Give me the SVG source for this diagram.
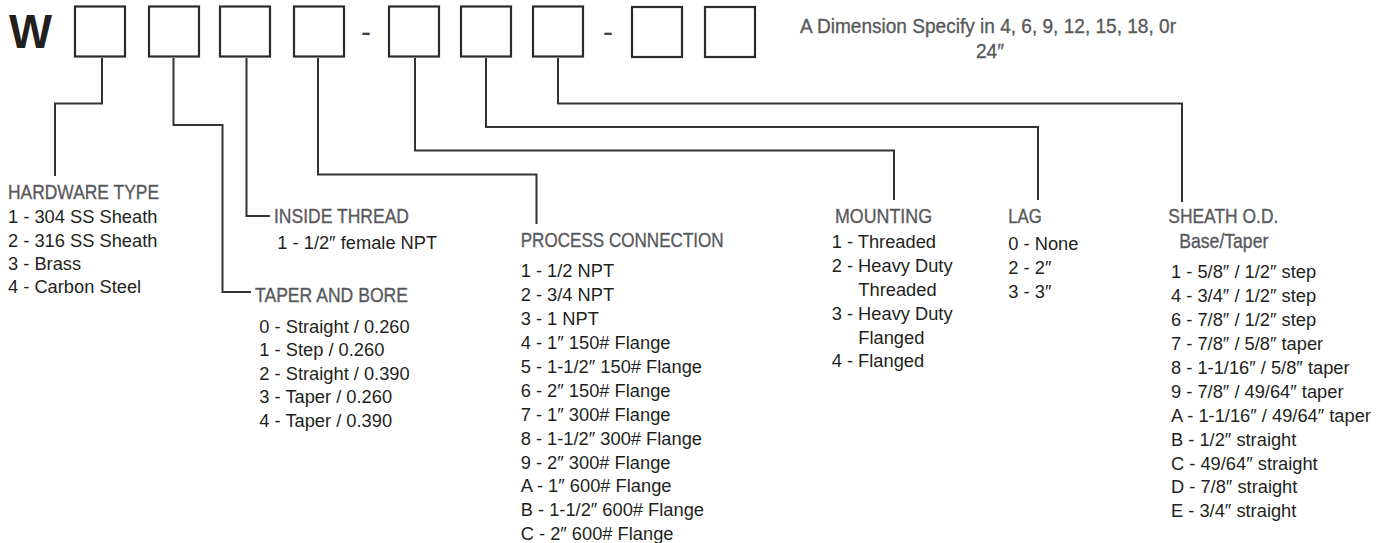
<svg xmlns="http://www.w3.org/2000/svg" width="1393" height="543" viewBox="0 0 1393 543">
<style>
.box{fill:#fff;stroke:#2b2b2b;stroke-width:2.2}
.c{fill:none;stroke:#333;stroke-width:2}
.h{font-family:"Liberation Sans",Arial,"DejaVu Sans",sans-serif;font-size:21px;fill:#58595b;stroke:#58595b;stroke-width:0.35}
.b{font-family:"Liberation Sans",Arial,"DejaVu Sans",sans-serif;font-size:18.3px;fill:#231f20}
.w{font-family:"Liberation Sans",Arial,sans-serif;font-size:48px;font-weight:bold;fill:#231f20}
.d{font-family:"Liberation Sans",Arial,sans-serif;font-size:30px;fill:#444}
</style>
<rect width="1393" height="543" fill="#fff"/>
<g id="code">
<text class="w" x="9" y="48" textLength="43" lengthAdjust="spacingAndGlyphs">W</text>
<rect class="box" x="75" y="6.5" width="50" height="50"/>
<rect class="box" x="149" y="6.5" width="50" height="50"/>
<rect class="box" x="220" y="6.5" width="50" height="50"/>
<rect class="box" x="294" y="6.5" width="50" height="50"/>
<text class="d" x="366" y="42" text-anchor="middle">-</text>
<rect class="box" x="389" y="6.5" width="50" height="50"/>
<rect class="box" x="461" y="6.5" width="50" height="50"/>
<rect class="box" x="533" y="6.5" width="50" height="50"/>
<text class="d" x="608" y="42" text-anchor="middle">-</text>
<rect class="box" x="632" y="7" width="50" height="50"/>
<rect class="box" x="705" y="7" width="50" height="50"/>
</g>
<g id="dimension-note">
<text class="h" x="988" y="33.3" text-anchor="middle" textLength="376" lengthAdjust="spacingAndGlyphs">A Dimension Specify in 4, 6, 9, 12, 15, 18, 0r</text>
<text class="h" x="990" y="58.3" text-anchor="middle" textLength="28" lengthAdjust="spacingAndGlyphs">24″</text>
</g>
<g id="connectors">
<path class="c" d="M102 58 V103.5 H55 V176"/>
<path class="c" d="M173.5 58 V125 H222.5 V292 H251"/>
<path class="c" d="M246.5 58 V216 H270"/>
<path class="c" d="M318 58 V174.5 H536.5 V224"/>
<path class="c" d="M415 58 V150.5 H894 V200"/>
<path class="c" d="M486 58 V127 H1038 V200"/>
<path class="c" d="M558 58 V103.5 H1182 V202"/>
</g>
<g id="hardware-type">
<text class="h" x="8" y="199" textLength="151" lengthAdjust="spacingAndGlyphs">HARDWARE TYPE</text>
<text class="b" x="8" y="223.3">1 - 304 SS Sheath</text>
<text class="b" x="8" y="246.7">2 - 316 SS Sheath</text>
<text class="b" x="8" y="270">3 - Brass</text>
<text class="b" x="8" y="293.3">4 - Carbon Steel</text>
</g>
<g id="inside-thread">
<text class="h" x="274" y="223.3" textLength="135" lengthAdjust="spacingAndGlyphs">INSIDE THREAD</text>
<text class="b" x="277.3" y="248.7">1 - 1/2″ female NPT</text>
</g>
<g id="taper-and-bore">
<text class="h" x="255" y="302" textLength="153" lengthAdjust="spacingAndGlyphs">TAPER AND BORE</text>
<text class="b" x="259.3" y="332.7">0 - Straight / 0.260</text>
<text class="b" x="259.3" y="356.2">1 - Step / 0.260</text>
<text class="b" x="259.3" y="379.7">2 - Straight / 0.390</text>
<text class="b" x="259.3" y="403.2">3 - Taper / 0.260</text>
<text class="b" x="259.3" y="426.7">4 - Taper / 0.390</text>
</g>
<g id="process-connection">
<text class="h" x="520.7" y="247.3" textLength="203" lengthAdjust="spacingAndGlyphs">PROCESS CONNECTION</text>
<text class="b" x="520.7" y="277.3">1 - 1/2 NPT</text>
<text class="b" x="520.7" y="301.2">2 - 3/4 NPT</text>
<text class="b" x="520.7" y="325.1">3 - 1 NPT</text>
<text class="b" x="520.7" y="349">4 - 1″ 150# Flange</text>
<text class="b" x="520.7" y="372.9">5 - 1-1/2″ 150# Flange</text>
<text class="b" x="520.7" y="396.8">6 - 2″ 150# Flange</text>
<text class="b" x="520.7" y="420.7">7 - 1″ 300# Flange</text>
<text class="b" x="520.7" y="444.6">8 - 1-1/2″ 300# Flange</text>
<text class="b" x="520.7" y="468.5">9 - 2″ 300# Flange</text>
<text class="b" x="520.7" y="492.4">A - 1″ 600# Flange</text>
<text class="b" x="520.7" y="516.3">B - 1-1/2″ 600# Flange</text>
<text class="b" x="520.7" y="540.2">C - 2″ 600# Flange</text>
</g>
<g id="mounting">
<text class="h" x="835" y="223.3" textLength="97" lengthAdjust="spacingAndGlyphs">MOUNTING</text>
<text class="b" x="831.7" y="248.3">1 - Threaded</text>
<text class="b" x="831.7" y="272.2">2 - Heavy Duty</text>
<text class="b" x="858.3" y="296">Threaded</text>
<text class="b" x="831.7" y="319.8">3 - Heavy Duty</text>
<text class="b" x="858.3" y="343.6">Flanged</text>
<text class="b" x="831.7" y="367.4">4 - Flanged</text>
</g>
<g id="lag">
<text class="h" x="1008.3" y="223.3" textLength="33.5" lengthAdjust="spacingAndGlyphs">LAG</text>
<text class="b" x="1008.3" y="250">0 - None</text>
<text class="b" x="1008.3" y="273.9">2 - 2″</text>
<text class="b" x="1008.3" y="297.7">3 - 3″</text>
</g>
<g id="sheath-od">
<text class="h" x="1168.3" y="223.3" textLength="110" lengthAdjust="spacingAndGlyphs">SHEATH O.D.</text>
<text class="h" x="1179.3" y="247.5" textLength="89" lengthAdjust="spacingAndGlyphs">Base/Taper</text>
<text class="b" x="1171" y="278.3">1 - 5/8″ / 1/2″ step</text>
<text class="b" x="1171" y="302.2">4 - 3/4″ / 1/2″ step</text>
<text class="b" x="1171" y="326.1">6 - 7/8″ / 1/2″ step</text>
<text class="b" x="1171" y="350">7 - 7/8″ / 5/8″ taper</text>
<text class="b" x="1171" y="373.9">8 - 1-1/16″ / 5/8″ taper</text>
<text class="b" x="1171" y="397.8">9 - 7/8″ / 49/64″ taper</text>
<text class="b" x="1171" y="421.7">A - 1-1/16″ / 49/64″ taper</text>
<text class="b" x="1171" y="445.6">B - 1/2″ straight</text>
<text class="b" x="1171" y="469.5">C - 49/64″ straight</text>
<text class="b" x="1171" y="493.4">D - 7/8″ straight</text>
<text class="b" x="1171" y="517.3">E - 3/4″ straight</text>
</g>
</svg>
